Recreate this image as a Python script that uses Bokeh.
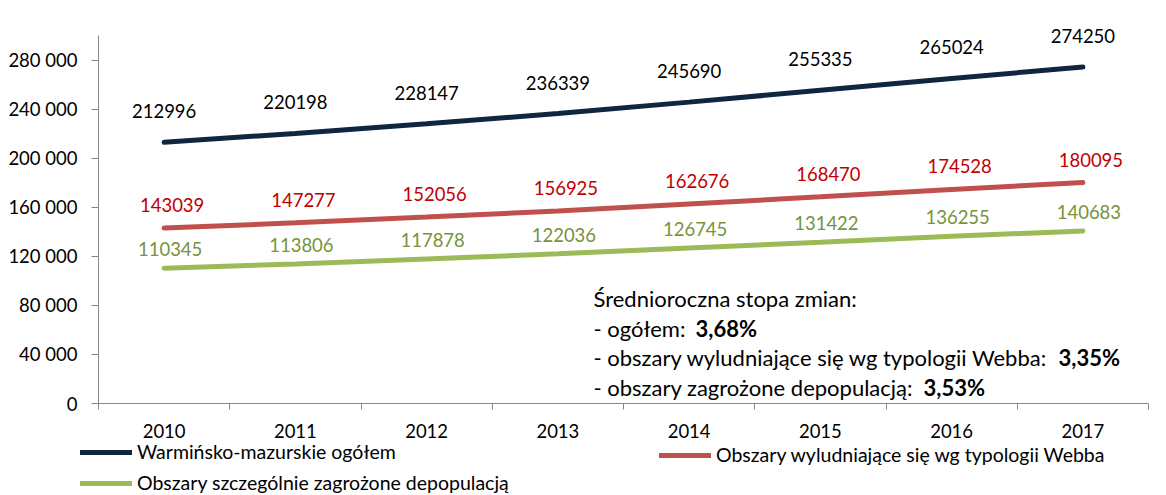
from bokeh.plotting import figure
from bokeh.models import (Range1d, FixedTicker, Legend, LegendItem, Label, ColumnDataSource)
from bokeh.core.properties import value
from bokeh.embed import file_html
from bokeh.resources import INLINE

years = ["2010", "2011", "2012", "2013", "2014", "2015", "2016", "2017"]
total = [212996, 220198, 228147, 236339, 245690, 255335, 265024, 274250]
webb = [143039, 147277, 152056, 156925, 162676, 168470, 174528, 180095]
depop = [110345, 113806, 117878, 122036, 126745, 131422, 136255, 140683]
y_ticks = [0, 40000, 80000, 120000, 160000, 200000, 240000, 280000]
y_axis_max = 300000
series_names = ["Warmińsko-mazurskie ogółem",
                "Obszary wyludniające się wg typologii Webba",
                "Obszary szczególnie zagrożone depopulacją"]
note_title = "Średnioroczna stopa zmian:"
note_lines = ["- ogółem: ", "- obszary wyludniające się wg typologii Webba: ", "- obszary zagrożone depopulacją: "]
note_values = ["3,68%", "3,35%", "3,53%"]

FONT = "Lato"

W, H = 1166, 495
# plot-area placement inside the canvas (pixels)
ax_left, ax_right, ax_top, ax_bottom = 98, 1148, 35, 403
n = len(years)
ux = (ax_right - ax_left) / n              # px per category
uy = (ax_bottom - ax_top) / y_axis_max     # px per unit
x = [i + 0.5 for i in range(n)]

y0 = -(H - ax_bottom) / uy
p = figure(width=W, height=H, output_backend="svg", toolbar_location=None,
           x_range=Range1d(-ax_left / ux, n + (W - ax_right) / ux),
           y_range=Range1d(y0, y0 + H / uy),
           min_border_left=0, min_border_right=0, min_border_top=0, min_border_bottom=0)
p.outline_line_color = None
p.xgrid.visible = False
p.ygrid.visible = False

# axes
xa = p.xaxis[0]
xa.fixed_location = 0
xa.bounds = (0, n)
xa.ticker = FixedTicker(ticks=x, minor_ticks=list(range(n + 1)))
xa.major_label_overrides = {xi: y for xi, y in zip(x, years)}
xa.major_tick_line_color = None
xa.major_tick_out = 6
xa.major_tick_in = 0
xa.minor_tick_out = 6
xa.minor_tick_in = 0
xa.minor_tick_line_color = "#868686"
xa.axis_line_color = "#868686"
xa.major_label_text_font = FONT
xa.major_label_text_font_style = "normal"
xa.major_label_text_font_size = "18.5px"
xa.major_label_text_color = "black"
xa.major_label_standoff = 14

ya = p.yaxis[0]
ya.fixed_location = 0
ya.ticker = FixedTicker(ticks=y_ticks, minor_ticks=[])
ya.major_label_overrides = {t: f"{t:,}".replace(",", " ") for t in y_ticks}
ya.bounds = (0, y_axis_max)
ya.major_tick_out = 7
ya.major_tick_in = 0
ya.major_tick_line_color = "#868686"
ya.axis_line_color = "#868686"
ya.major_label_text_font = FONT
ya.major_label_text_font_style = "normal"
ya.major_label_text_font_size = "18.5px"
ya.major_label_text_color = "black"
ya.major_label_standoff = 14

colors = ["#10253F", "#C0504D", "#9BBB59"]
label_colors = ["#000000", "#C00000", "#77933C"]
offsets = [(0, -31), (8, -23), (6, -19)]
renderers = []
for vals, c, lc, (dx, dy) in zip([total, webb, depop], colors, label_colors, offsets):
    src = ColumnDataSource(dict(x=x, y=vals, t=[str(v) for v in vals]))
    r = p.line("x", "y", source=src, line_color=c, line_width=5, line_cap="round")
    renderers.append(r)
    p.text("x", "y", text="t", source=src, text_color=lc, text_font=value(FONT),
           text_font_size="18.5px", text_align="center", text_baseline="middle",
           x_offset=dx, y_offset=dy)

leg_style = dict(padding=0, margin=0, border_line_alpha=0, background_fill_alpha=0,
                 label_text_font=FONT, label_text_font_size="19.5px",
                 label_text_color="black", glyph_width=52,
                 glyph_height=20, label_height=20, label_standoff=5, spacing=8)
leg1 = Legend(items=[LegendItem(label=series_names[0], renderers=[renderers[0]]),
                     LegendItem(label=series_names[2], renderers=[renderers[2]])],
              location=(80, 1), **leg_style)
leg2 = Legend(items=[LegendItem(label=series_names[1], renderers=[renderers[1]])],
              location=(659, 29), **leg_style)
p.add_layout(leg1)
p.add_layout(leg2)

# note text (screen units measured from the bottom-left corner)
lx = 593
ys = [197, 167.5, 138, 108.5]
NOTE_SIZE = "22px"
p.add_layout(Label(x=lx, y=ys[0], x_units="screen", y_units="screen", text=note_title,
                   text_font=FONT, text_font_size=NOTE_SIZE, text_color="black",
                   text_baseline="alphabetic"))
bold_x = [695, 1058, 923]
for yy, t, bv, bx in zip(ys[1:], note_lines, note_values, bold_x):
    p.add_layout(Label(x=lx, y=yy, x_units="screen", y_units="screen", text=t,
                       text_font=FONT, text_font_size=NOTE_SIZE, text_color="black",
                       text_baseline="alphabetic"))
    p.add_layout(Label(x=bx, y=yy, x_units="screen", y_units="screen", text=bv,
                       text_font=FONT, text_font_size=NOTE_SIZE, text_font_style="bold",
                       text_color="black", text_baseline="alphabetic"))

open("out.html", "w").write(file_html(p, INLINE))
